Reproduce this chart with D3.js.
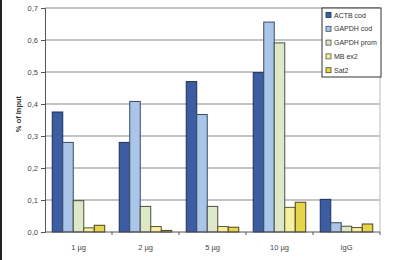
<!DOCTYPE html>
<html>
<head>
<meta charset="utf-8">
<script src="https://cdn.jsdelivr.net/npm/d3@7"></script>
<style>
  body { margin: 0; background: #fff; }
  svg { display: block; }
</style>
</head>
<body>
<div id="chart"></div>
<script>
// data
var groups = ["1 µg", "2 µg", "5 µg", "10 µg", "IgG"];
var series = ["ACTB cod", "GAPDH cod", "GAPDH prom", "MB ex2", "Sat2"];
var actbCod   = [0.375, 0.280, 0.470, 0.498, 0.102];
var gapdhCod  = [0.280, 0.408, 0.367, 0.656, 0.029];
var gapdhProm = [0.098, 0.080, 0.080, 0.591, 0.018];
var mbEx2     = [0.013, 0.017, 0.017, 0.077, 0.014];
var sat2      = [0.021, 0.005, 0.015, 0.093, 0.025];
var yTicks = [0, 0.1, 0.2, 0.3, 0.4, 0.5, 0.6, 0.7];

var values = [actbCod, gapdhCod, gapdhProm, mbEx2, sat2];
var colors = ["#3d5da2", "#a9c5e8", "#dee7c8", "#f7f0a2", "#e6d548"];
var strokes = ["#1e2d5c", "#3a4a66", "#4a5040", "#5a5530", "#4a4320"];

var W = 400, H = 260;
var margin = {top: 8, right: 20, bottom: 28, left: 45};
var width = W - margin.left - margin.right,
    height = H - margin.top - margin.bottom;

var svg = d3.select("#chart").append("svg")
    .attr("width", W)
    .attr("height", H);

// dark frame line on the left of the picture
svg.append("line")
    .attr("x1", 1).attr("x2", 1).attr("y1", 0).attr("y2", H)
    .attr("stroke", "#222").attr("stroke-width", 2);

var g = svg.append("g")
    .attr("transform", "translate(" + margin.left + "," + margin.top + ")");

var x0 = d3.scaleBand().domain(groups).range([0, width]).paddingInner(0).paddingOuter(0);
var x1 = d3.scaleBand().domain(series).range([0, x0.bandwidth()]).paddingInner(0).paddingOuter(0.69);
var y = d3.scaleLinear().domain([0, 0.7]).range([height, 0]);

// gridlines
g.append("g")
  .selectAll("line")
  .data(yTicks.slice(1))
  .enter().append("line")
    .attr("x1", 0).attr("x2", width)
    .attr("y1", function(d) { return y(d); })
    .attr("y2", function(d) { return y(d); })
    .attr("stroke", "#8a8a8a")
    .attr("stroke-width", 1.2);

// right border of plot area
g.append("line")
    .attr("x1", width).attr("x2", width).attr("y1", 0).attr("y2", height)
    .attr("stroke", "#bbb");

// bars
var rows = groups.map(function(grp, i) {
  return series.map(function(s, j) { return {group: grp, series: s, idx: j, value: values[j][i]}; });
});

g.append("g")
  .selectAll("g")
  .data(rows)
  .enter().append("g")
    .attr("transform", function(d) { return "translate(" + x0(d[0].group) + ",0)"; })
  .selectAll("rect")
  .data(function(d) { return d; })
  .enter().append("rect")
    .attr("x", function(d) { return x1(d.series); })
    .attr("y", function(d) { return y(d.value); })
    .attr("width", x1.bandwidth())
    .attr("height", function(d) { return height - y(d.value); })
    .attr("fill", function(d) { return colors[d.idx]; })
    .attr("stroke", function(d) { return strokes[d.idx]; })
    .attr("stroke-width", 1);

// y axis
var yAxis = g.append("g")
    .call(d3.axisLeft(y).tickValues(yTicks).tickSize(4)
      .tickFormat(function(d) { return d3.format(".1f")(d).replace(".", ","); }));
yAxis.select(".domain").attr("stroke", "#555");
yAxis.selectAll(".tick line").attr("stroke", "#555");
yAxis.selectAll("text")
    .attr("fill", "#444")
    .style("font-family", "Arial, 'Liberation Sans', sans-serif")
    .style("font-size", "7.5px");

// x axis, ticks at group boundaries
var xAxis = g.append("g")
    .attr("transform", "translate(0," + height + ")");
xAxis.append("line")
    .attr("x1", 0).attr("x2", width)
    .attr("stroke", "#555");
xAxis.selectAll(".bt")
  .data(groups)
  .enter().append("line")
    .attr("x1", function(d) { return x0(d) + x0.bandwidth(); })
    .attr("x2", function(d) { return x0(d) + x0.bandwidth(); })
    .attr("y1", 0).attr("y2", 3)
    .attr("stroke", "#555");
xAxis.selectAll("text")
  .data(groups)
  .enter().append("text")
    .attr("x", function(d) { return x0(d) + x0.bandwidth() / 2; })
    .attr("y", 18)
    .attr("text-anchor", "middle")
    .attr("fill", "#444")
    .style("font-family", "Arial, 'Liberation Sans', sans-serif")
    .style("font-size", "7.5px")
    .text(function(d) { return d; });

// y axis title
svg.append("text")
    .attr("transform", "translate(21," + 114 + ") rotate(-90)")
    .attr("text-anchor", "middle")
    .attr("fill", "#333")
    .style("font-family", "Arial, 'Liberation Sans', sans-serif")
    .style("font-size", "7.5px")
    .style("font-weight", "bold")
    .text("% of Input");

// legend
var legend = svg.append("g").attr("transform", "translate(322,8)");
legend.append("rect")
    .attr("width", 59).attr("height", 69)
    .attr("fill", "#fff")
    .attr("stroke", "#333");
var item = legend.selectAll(".item")
  .data(series)
  .enter().append("g")
    .attr("transform", function(d, i) { return "translate(4," + (7 + i * 13.8) + ")"; });
item.append("rect")
    .attr("x", 0).attr("y", -2.5)
    .attr("width", 5).attr("height", 5)
    .attr("fill", function(d, i) { return colors[i]; })
    .attr("stroke", function(d, i) { return strokes[i]; })
    .attr("stroke-width", 0.8);
item.append("text")
    .attr("x", 8).attr("y", 2.5)
    .attr("fill", "#333")
    .style("font-family", "Arial, 'Liberation Sans', sans-serif")
    .style("font-size", "7px")
    .text(function(d) { return d; });
</script>
</body>
</html>
